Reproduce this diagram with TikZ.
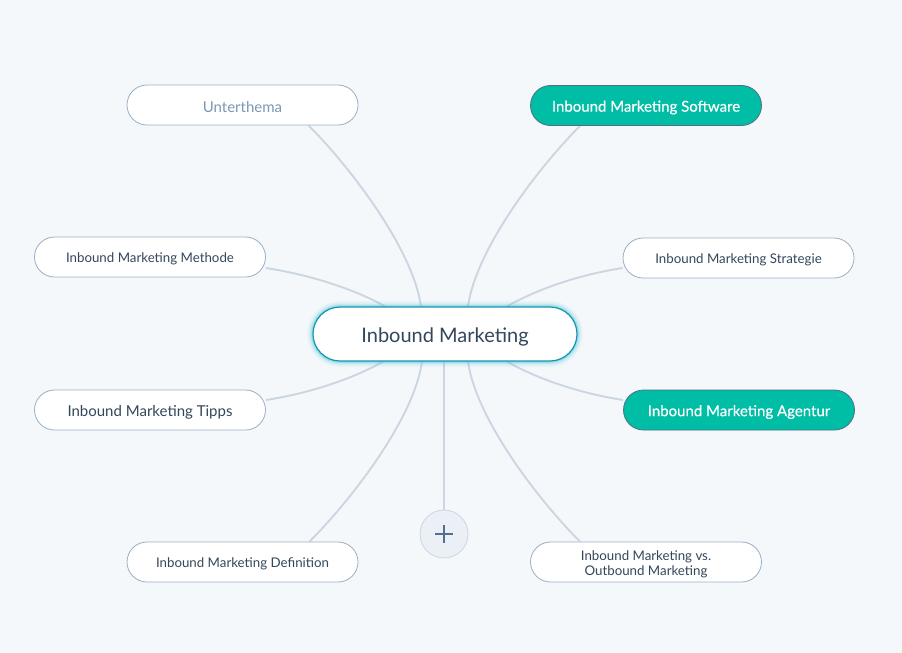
\documentclass[tikz,border=0pt]{standalone}
\usepackage{fontspec}
\setmainfont{Lato}
\newfontfamily\medfont[FakeBold=0.4]{Lato}
\definecolor{bgc}{HTML}{F5F8FA}
\definecolor{edgec}{HTML}{CBD6E2}
\definecolor{bordc}{HTML}{9AAFC5}
\definecolor{txtc}{HTML}{33475B}
\definecolor{tealc}{HTML}{00BDA5}
\definecolor{tealbord}{HTML}{4F6F86}
\definecolor{subc}{HTML}{7C98B6}
\definecolor{glowc}{HTML}{45C3DA}
\definecolor{cbord}{HTML}{1596B0}
\definecolor{plusfill}{HTML}{EAF0F6}
\definecolor{plusc}{HTML}{516F90}
\pgfdeclarelayer{bgl}
\pgfdeclarelayer{edges}
\pgfsetlayers{bgl,edges,main}
\newcommand{\lowr}[2][2pt]{\raisebox{-#1}[\height][\depth]{#2}}
\tikzset{
  pill/.style={draw=bordc, line width=0.8pt, fill=white, rounded corners=20pt,
    minimum width=231pt, minimum height=40pt, inner sep=0pt, text=txtc,
    align=center, font=\fontsize{13.3}{16}\selectfont},
  pillbig/.style={pill, font=\fontsize{15}{18}\selectfont},
  tealpill/.style={pill, fill=tealc, draw=tealbord, text=white,
    font=\fontsize{15}{18}\selectfont\medfont},
  centerpill/.style={draw=cbord, line width=1.2pt, fill=white, rounded corners=27pt,
    minimum width=264pt, minimum height=54pt, inner sep=0pt, text=txtc,
    font=\fontsize{20}{24}\selectfont},
  conn/.style={draw=edgec, line width=1.9pt},
  plusbtn/.style={circle, draw=edgec, line width=0.8pt, fill=plusfill, minimum size=48pt, inner sep=0pt}
}
\begin{document}
\begin{tikzpicture}[x=1pt,y=-1pt]
\begin{pgfonlayer}{bgl}
\fill[bgc] (0,0) rectangle (902,653);
\end{pgfonlayer}
\useasboundingbox (0,0) rectangle (902,653);

% glow
\foreach \w/\o in {12/0.06, 9/0.1, 6/0.16, 3.5/0.3}{
  \draw[glowc, line width=\w pt, opacity=\o, rounded corners=27pt] (313,307) rectangle (577,361);
}
\node[centerpill] (c) at (445,334) {\lowr[2.5pt]{Inbound Marketing}};

\node[pillbig, text=subc] (ut) at (242.5,105) {\lowr{Unterthema}};
\node[tealpill] (sw) at (646,105.5) {\lowr{Inbound Marketing Software}};
\node[pill] (me) at (150,257) {\lowr{Inbound Marketing Methode}};
\node[pill] (st) at (738.5,258) {\lowr{Inbound Marketing Strategie}};
\node[pillbig] (ti) at (150,410) {\lowr{Inbound Marketing Tipps}};
\node[tealpill] (ag) at (739,410) {\lowr{Inbound Marketing Agentur}};
\node[pill] (de) at (242.5,562) {\lowr{Inbound Marketing Definition}};
\node[pill] (vs) at (646,562) {\lowr{\shortstack{Inbound Marketing vs.\\Outbound Marketing}}};
\node[plusbtn] (pl) at (444,534) {};
\draw[plusc, line width=2pt] ([xshift=-9pt]pl.center) -- ([xshift=9pt]pl.center);
\draw[plusc, line width=2pt] ([yshift=-9pt]pl.center) -- ([yshift=9pt]pl.center);

\begin{pgfonlayer}{edges}
\draw[conn] ([xshift=66pt]ut.south) .. controls +(42,42) and +(-8,-57) .. ([xshift=-24pt]c.north);
\draw[conn] ([xshift=-66pt]sw.south) .. controls +(-42,42) and +(8,-57) .. ([xshift=23pt]c.north);
\draw[conn] ([yshift=-11pt]me.east) .. controls +(45,7) and +(-30,-17) .. ([xshift=-60pt]c.north);
\draw[conn] ([yshift=-10pt]st.west) .. controls +(-45,7) and +(30,-17) .. ([xshift=62pt]c.north);
\draw[conn] ([yshift=10pt]ti.east) .. controls +(45,-7) and +(-30,17) .. ([xshift=-62pt]c.south);
\draw[conn] ([yshift=10pt]ag.west) .. controls +(-45,-7) and +(30,17) .. ([xshift=62pt]c.south);
\draw[conn] ([xshift=67pt]de.north) .. controls +(42,-42) and +(-8,57) .. ([xshift=-23pt]c.south);
\draw[conn] ([xshift=-66pt]vs.north) .. controls +(-42,-42) and +(8,57) .. ([xshift=23pt]c.south);
\draw[conn] ([xshift=-1pt]c.south) -- (pl.north);
\end{pgfonlayer}
\end{tikzpicture}
\end{document}
